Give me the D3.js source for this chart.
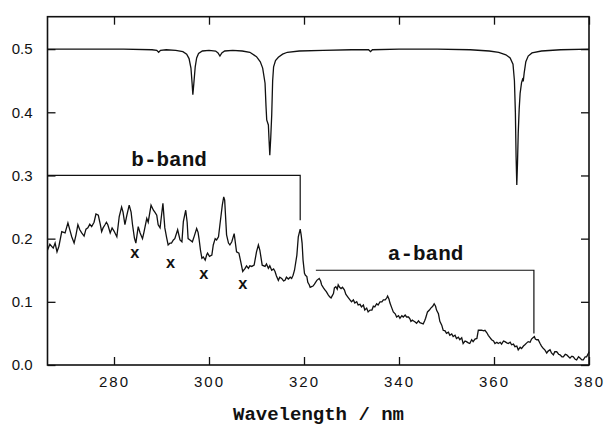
<!DOCTYPE html>
<html>
<head>
<meta charset="utf-8">
<script src="https://d3js.org/d3.v7.min.js"></script>
<style>
  body { margin: 0; background: #fff; }
  .tick text { font-family: "Liberation Sans", Arial, sans-serif; font-size: 15px; fill: #111; }
  .tick line { stroke: #111; stroke-width: 1.3; }
  .note { font-family: "Liberation Mono", "DejaVu Sans Mono", monospace; font-weight: bold; fill: #111; }
</style>
</head>
<body>
<svg width="604" height="426"></svg>
<script>
// axis ticks
var xTicks = [280, 300, 320, 340, 360, 380];
var yTicks = [0, 0.1, 0.2, 0.3, 0.4, 0.5];

// upper trace (reference lamp, offset to 0.5) [nm, value]
var upperTrace = [
  [266,0.500],[275,0.500],[282,0.500],[288,0.499],[289.0,0.498],[289.4,0.495],[289.8,0.498],
  [291,0.499],[293,0.498],[294.5,0.496],[295.3,0.492],[295.8,0.485],[296.2,0.470],[296.45,0.445],
  [296.6,0.428],[296.8,0.445],[297.1,0.472],[297.4,0.486],[297.8,0.493],[298.6,0.497],[300,0.498],
  [301.4,0.497],[301.9,0.494],[302.3,0.489],[302.7,0.494],[303.3,0.497],[305,0.498],[307,0.497],
  [308.6,0.495],[310.0,0.488],[310.8,0.480],[311.3,0.470],[311.8,0.446],[312.0,0.410],[312.15,0.388],
  [312.5,0.380],[312.65,0.355],[312.8,0.332],[313.0,0.360],[313.2,0.395],[313.4,0.450],[313.6,0.472],
  [314.0,0.482],[314.6,0.487],[315.5,0.492],[316.5,0.495],[319,0.497],[324,0.498],[330,0.499],
  [333.6,0.499],[334.0,0.496],[334.4,0.499],[340,0.500],[348,0.500],[355,0.499],[359,0.497],
  [361,0.495],[362.5,0.491],[363.4,0.486],[364.0,0.476],[364.3,0.450],[364.5,0.400],[364.65,0.330],
  [364.8,0.285],[364.95,0.320],[365.1,0.367],[365.3,0.405],[365.5,0.430],[365.8,0.447],[366.0,0.452],
  [366.15,0.449],[366.35,0.462],[366.7,0.480],[367.2,0.489],[368,0.494],[370,0.497],[374,0.499],[380,0.500]
];

// lower trace (absorption spectrum) [nm, value]
var lowerTrace = [
  [266.0,0.182],[266.5,0.191],[267.2,0.185],[267.6,0.193],[268.0,0.179],[268.4,0.188],[269.0,0.211],
  [269.7,0.209],[270.3,0.225],[270.7,0.214],[271.1,0.203],[271.6,0.193],[272.0,0.206],[272.4,0.222],
  [272.8,0.214],[273.2,0.209],[273.7,0.204],[274.1,0.215],[274.5,0.217],[274.9,0.223],[275.3,0.219],
  [275.8,0.226],[276.2,0.239],[276.7,0.237],[277.1,0.223],[277.4,0.211],[277.7,0.217],[278.1,0.222],
  [278.4,0.226],[278.7,0.222],[279.2,0.209],[279.6,0.217],[280.0,0.212],[280.6,0.203],[281.1,0.235],
  [281.6,0.250],[281.9,0.242],[282.3,0.222],[282.7,0.237],[283.2,0.253],[283.6,0.242],[283.9,0.222],
  [284.3,0.201],[284.6,0.193],[285.1,0.219],[285.5,0.209],[286.0,0.200],[286.3,0.210],[286.9,0.232],
  [287.2,0.226],[287.8,0.253],[288.3,0.245],[288.6,0.242],[289.0,0.237],[289.3,0.222],[289.7,0.217],
  [290.3,0.256],[290.7,0.217],[291.1,0.201],[291.4,0.190],[291.8,0.193],[292.1,0.193],[292.5,0.198],
  [292.8,0.200],[293.4,0.214],[293.9,0.198],[294.3,0.195],[294.6,0.227],[295.1,0.245],[295.4,0.226],
  [295.6,0.200],[296.0,0.198],[296.5,0.195],[296.9,0.204],[297.4,0.216],[297.7,0.210],[297.9,0.200],
  [298.2,0.182],[298.5,0.169],[298.8,0.171],[299.2,0.166],[299.5,0.174],[299.7,0.177],[300.1,0.172],
  [300.6,0.174],[300.9,0.190],[301.3,0.200],[301.6,0.198],[302.0,0.203],[302.3,0.222],[302.8,0.253],
  [303.1,0.266],[303.3,0.261],[303.7,0.206],[304.1,0.193],[304.4,0.190],[304.8,0.195],[305.3,0.208],
  [305.8,0.179],[306.3,0.177],[306.7,0.163],[307.1,0.148],[307.6,0.153],[307.9,0.157],[308.3,0.153],
  [308.6,0.157],[309.0,0.156],[309.5,0.158],[310.0,0.179],[310.4,0.190],[310.7,0.182],[311.2,0.158],
  [311.8,0.156],[312.1,0.160],[312.5,0.153],[312.8,0.157],[313.2,0.150],[313.6,0.152],[313.9,0.148],
  [314.2,0.141],[314.6,0.134],[314.9,0.139],[315.3,0.137],[315.7,0.133],[316.0,0.134],[316.3,0.139],
  [316.7,0.136],[317.1,0.139],[317.4,0.137],[317.7,0.142],[318.0,0.150],[318.5,0.174],[318.8,0.203],
  [319.2,0.215],[319.4,0.206],[319.6,0.193],[319.8,0.166],[320.1,0.145],[320.3,0.142],[320.6,0.140],
  [320.8,0.131],[321.1,0.127],[321.3,0.123],[321.6,0.124],[321.9,0.125],[322.2,0.128],[322.7,0.134],
  [323.2,0.137],[323.5,0.133],[323.7,0.127],[324.1,0.122],[324.4,0.119],[324.7,0.116],[325.1,0.111],
  [325.4,0.108],[325.7,0.106],[325.9,0.109],[326.2,0.113],[326.4,0.122],[326.7,0.124],[327.0,0.120],
  [327.2,0.127],[327.5,0.123],[327.8,0.121],[328.1,0.123],[328.5,0.119],[328.8,0.112],[329.2,0.108],
  [329.6,0.104],[330.0,0.100],[330.4,0.103],[330.7,0.098],[331.1,0.100],[331.4,0.095],[331.8,0.096],
  [332.1,0.092],[332.5,0.095],[332.8,0.087],[333.2,0.090],[333.5,0.084],[333.9,0.087],[334.3,0.087],
  [334.6,0.093],[334.9,0.092],[335.3,0.097],[335.6,0.095],[336.0,0.100],[336.4,0.100],[336.7,0.103],
  [337.1,0.103],[337.4,0.106],[337.6,0.109],[337.9,0.104],[338.1,0.098],[338.5,0.090],[338.8,0.084],
  [339.2,0.081],[339.5,0.076],[339.9,0.078],[340.2,0.074],[340.6,0.078],[340.9,0.076],[341.3,0.079],
  [341.6,0.076],[342.0,0.076],[342.3,0.073],[342.5,0.069],[342.8,0.071],[343.0,0.070],[343.4,0.068],
  [343.7,0.066],[344.1,0.070],[344.4,0.067],[344.8,0.066],[345.1,0.065],[345.4,0.070],[345.6,0.074],
  [346.0,0.084],[346.4,0.087],[346.7,0.090],[347.1,0.093],[347.4,0.097],[347.7,0.093],[347.9,0.087],
  [348.3,0.081],[348.6,0.069],[349.0,0.063],[349.3,0.055],[349.7,0.054],[350.0,0.050],[350.4,0.052],
  [350.7,0.047],[351.1,0.049],[351.4,0.045],[351.8,0.047],[352.1,0.042],[352.5,0.044],[352.8,0.040],
  [353.2,0.043],[353.5,0.034],[353.9,0.038],[354.2,0.037],[354.6,0.035],[354.9,0.034],[355.3,0.040],
  [355.6,0.037],[356.0,0.041],[356.4,0.042],[356.7,0.055],[357.1,0.055],[357.4,0.055],[357.8,0.054],
  [358.1,0.055],[358.5,0.051],[358.8,0.047],[359.2,0.043],[359.5,0.040],[359.9,0.038],[360.2,0.034],
  [360.6,0.036],[360.9,0.034],[361.3,0.036],[361.6,0.033],[362.0,0.038],[362.3,0.037],[362.7,0.035],
  [363.0,0.034],[363.4,0.036],[363.7,0.032],[364.1,0.033],[364.4,0.029],[364.8,0.030],[365.1,0.024],
  [365.5,0.028],[365.8,0.026],[366.2,0.030],[366.5,0.032],[366.9,0.035],[367.2,0.037],[367.6,0.036],
  [367.9,0.041],[368.2,0.043],[368.5,0.045],[368.7,0.041],[369.0,0.040],[369.3,0.040],[369.7,0.034],
  [370.0,0.030],[370.4,0.026],[370.7,0.024],[371.1,0.019],[371.4,0.022],[371.8,0.024],[372.1,0.019],
  [372.5,0.016],[372.8,0.021],[373.2,0.021],[373.6,0.017],[373.9,0.016],[374.3,0.013],[374.6,0.013],
  [375.0,0.017],[375.3,0.016],[375.7,0.013],[376.0,0.011],[376.4,0.014],[376.7,0.013],[377.1,0.009],
  [377.4,0.008],[377.8,0.013],[378.1,0.011],[378.5,0.008],[378.8,0.008],[379.2,0.013],[379.5,0.013],
  [379.9,0.019],[380.0,0.021]
];

// band brackets: [label, start nm, end nm, level, drop-to value]
var bands = [
  ["b-band", 266, 319.2, 0.30, 0.229],
  ["a-band", 322.5, 368.4, 0.15, 0.050]
];
// label anchor points for the bands [nm, value]
var bandLabels = [[291.6, 0.315], [345.6, 0.166]];

// "x" markers [nm, value]
var marks = [[284.4, 0.177], [291.9, 0.160], [298.9, 0.144], [307.1, 0.128]];

var svg = d3.select("svg");
var plotL = 47.5, plotR = 589, plotT = 16.7, plotB = 365;

var x = d3.scaleLinear().domain([266, 380]).range([plotL, plotR]);
var y = d3.scaleLinear().domain([0, 0.5513]).range([plotB, plotT]);

// axes
svg.append("g")
  .attr("transform", "translate(" + plotL + ",0)")
  .call(d3.axisLeft(y).tickValues(yTicks).tickFormat(d3.format(".1f")).tickSize(-8).tickPadding(15))
  .call(function(g){ g.select(".domain").remove() });
svg.append("g")
  .attr("transform", "translate(" + plotR + ",0)")
  .call(d3.axisRight(y).tickValues(yTicks).tickFormat("").tickSize(-8))
  .call(function(g){ g.select(".domain").remove() });
var xb = svg.append("g")
  .attr("transform", "translate(0," + plotB + ")")
  .call(d3.axisBottom(x).tickValues(xTicks).tickFormat(d3.format("d")).tickSize(-8).tickPadding(11))
  .call(function(g){ g.select(".domain").remove() });
xb.selectAll("text").style("letter-spacing", "2px");
svg.append("g")
  .attr("transform", "translate(0," + plotT + ")")
  .call(d3.axisTop(x).tickValues(xTicks).tickFormat("").tickSize(-8))
  .call(function(g){ g.select(".domain").remove() });

// frame
svg.append("rect")
  .attr("x", plotL).attr("y", plotT)
  .attr("width", plotR - plotL).attr("height", plotB - plotT)
  .attr("fill", "none").attr("stroke", "#111").attr("stroke-width", 1.6);

var line = d3.line()
  .x(function(d){ return x(d[0]) })
  .y(function(d){ return y(d[1]) });

svg.append("path").datum(upperTrace)
  .attr("d", line).attr("fill", "none").attr("stroke", "#111").attr("stroke-width", 1.3);
svg.append("path").datum(lowerTrace)
  .attr("d", line).attr("fill", "none").attr("stroke", "#111").attr("stroke-width", 1.3);

// band brackets
bands.forEach(function(b, i){
  svg.append("path")
    .attr("d", "M" + x(b[1]) + "," + y(b[3]) + "H" + x(b[2]) + "V" + y(b[4]))
    .attr("fill", "none").attr("stroke", "#111").attr("stroke-width", 1.2);
  svg.append("text").attr("class", "note")
    .attr("x", x(bandLabels[i][0])).attr("y", y(bandLabels[i][1]))
    .attr("text-anchor", "middle").style("font-size", "21px")
    .text(b[0]);
});

// x markers
svg.selectAll(".mark").data(marks).enter().append("text")
  .attr("class", "note mark")
  .attr("x", function(d){ return x(d[0]) })
  .attr("y", function(d){ return y(d[1]) + 4.5 })
  .attr("text-anchor", "middle").style("font-size", "16px")
  .text("x");

// axis title
svg.append("text").attr("class", "note")
  .attr("x", 318.5).attr("y", 420)
  .attr("text-anchor", "middle").style("font-size", "19px")
  .text("Wavelength / nm");
</script>
</body>
</html>
